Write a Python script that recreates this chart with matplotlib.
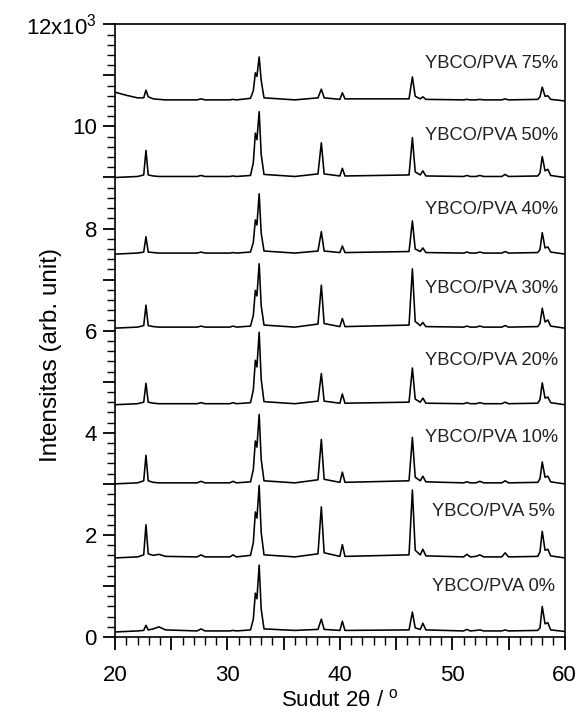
import matplotlib
matplotlib.use("Agg")
import matplotlib.pyplot as plt
from matplotlib.ticker import MultipleLocator, FuncFormatter

plt.rcParams['font.family'] = ['Liberation Sans', 'DejaVu Sans']
plt.rcParams['mathtext.default'] = 'regular'

# Shared 2-theta vertices (degrees) at which intensities were read
two_theta = [20.0, 21.0, 22.0, 22.55, 22.75, 22.95, 23.4, 23.9, 24.5, 27.3,
             27.65, 28.0, 30.2, 30.5, 30.8, 32.05, 32.3, 32.48, 32.62, 32.82,
             33.0, 33.25, 36.0, 38.05, 38.35, 38.6, 40.0, 40.22, 40.45, 46.15,
             46.45, 46.7, 47.15, 47.38, 47.65, 51.0, 51.3, 51.6, 52.1, 52.45,
             52.8, 54.4, 54.7, 55.0, 57.6, 57.8, 58.0, 58.25, 58.5, 58.75, 60.0]

labels = ["YBCO/PVA 0%", "YBCO/PVA 5%", "YBCO/PVA 10%", "YBCO/PVA 20%",
          "YBCO/PVA 30%", "YBCO/PVA 40%", "YBCO/PVA 50%", "YBCO/PVA 75%"]

# Vertical offsets of each stacked pattern (counts)
offsets = [100, 1550, 3000, 4550, 6050, 7500, 9000, 10500]

# Intensities above each pattern's baseline (counts)
pva_0 = [0, 10, 20, 30, 130, 40, 60, 100, 40, 20,
         60, 20, 20, 30, 20, 40, 250, 760, 650, 1310,
         450, 60, 30, 50, 250, 50, 30, 210, 30, 40,
         390, 80, 50, 170, 40, 20, 50, 20, 30, 40,
         20, 20, 40, 20, 30, 80, 500, 160, 180, 40, 10]
pva_5 = [0, 10, 20, 60, 650, 80, 50, 70, 30, 20,
         60, 20, 20, 60, 20, 50, 300, 900, 780, 1420,
         500, 60, 20, 80, 1000, 100, 30, 260, 30, 60,
         1330, 150, 60, 170, 40, 20, 70, 20, 30, 60,
         20, 20, 100, 20, 30, 120, 520, 150, 170, 40, 0]
pva_10 = [0, 10, 20, 60, 560, 60, 30, 20, 20, 20,
          50, 20, 20, 50, 20, 40, 280, 840, 720, 1360,
          480, 60, 20, 80, 870, 90, 30, 230, 30, 60,
          910, 130, 60, 150, 40, 20, 40, 20, 20, 50,
          20, 20, 60, 20, 30, 100, 430, 130, 150, 40, 0]
pva_20 = [0, 10, 20, 50, 420, 50, 30, 20, 20, 20,
          40, 20, 20, 40, 20, 40, 290, 870, 740, 1420,
          500, 60, 20, 70, 610, 70, 30, 210, 30, 50,
          720, 110, 50, 130, 30, 20, 40, 20, 20, 40,
          20, 20, 50, 20, 30, 100, 430, 130, 150, 40, 0]
pva_30 = [0, 10, 20, 50, 450, 50, 30, 20, 20, 20,
          40, 20, 20, 40, 20, 40, 250, 740, 630, 1260,
          440, 60, 20, 80, 840, 90, 30, 190, 30, 60,
          1160, 130, 50, 110, 30, 20, 40, 20, 20, 40,
          20, 20, 50, 20, 30, 90, 390, 120, 160, 40, 0]
pva_40 = [0, 10, 20, 40, 340, 40, 30, 20, 20, 20,
          40, 20, 20, 30, 20, 40, 230, 670, 570, 1180,
          410, 60, 20, 60, 440, 60, 30, 160, 30, 50,
          650, 100, 50, 120, 30, 20, 40, 20, 20, 40,
          20, 20, 50, 20, 30, 90, 420, 120, 140, 40, 0]
pva_50 = [0, 10, 20, 50, 530, 50, 30, 20, 20, 20,
          40, 20, 20, 30, 20, 40, 290, 870, 740, 1290,
          450, 60, 20, 70, 680, 70, 30, 180, 30, 50,
          780, 110, 50, 130, 30, 20, 40, 20, 20, 40,
          20, 20, 60, 20, 30, 90, 410, 130, 160, 40, 0]
pva_75 = [170, 110, 60, 60, 210, 80, 40, 30, 20, 20,
          40, 20, 20, 30, 20, 50, 200, 550, 480, 860,
          400, 60, 20, 60, 230, 60, 30, 160, 40, 40,
          470, 90, 40, 80, 30, 20, 30, 20, 20, 30,
          20, 20, 40, 20, 30, 80, 270, 90, 100, 30, 0]

series = [pva_0, pva_5, pva_10, pva_20, pva_30, pva_40, pva_50, pva_75]

# Label anchor heights (counts)
label_y = [990, 2450, 3900, 5420, 6820, 8370, 9830, 11240]
label_x = [59.1, 59.1, 59.4, 59.4, 59.4, 59.4, 59.4, 59.4]

fig = plt.figure(figsize=(5.84, 7.15), dpi=100)
ax = fig.add_axes([0.197, 0.109, 0.770, 0.857])

for vals, off in zip(series, offsets):
    ax.plot(two_theta, [v + off for v in vals], color='black', lw=1.15)

for lab, lx, ly in zip(labels, label_x, label_y):
    ax.text(lx, ly, lab, ha='right', va='center', fontsize=13.2, color='#222222')

ax.set_xlim(20, 60)
ax.set_ylim(0, 12000)

ax.xaxis.set_major_locator(MultipleLocator(5))
ax.xaxis.set_minor_locator(MultipleLocator(1))
ax.yaxis.set_major_locator(MultipleLocator(1000))
ax.yaxis.set_minor_locator(MultipleLocator(200))

def xfmt(v, pos):
    return f"{int(round(v))}" if int(round(v)) % 10 == 0 else ""

def yfmt(v, pos):
    k = int(round(v / 1000))
    if k % 2:
        return ""
    if k == 12:
        return r"12x10$^{3}$"
    return f"{k}"

ax.xaxis.set_major_formatter(FuncFormatter(xfmt))
ax.yaxis.set_major_formatter(FuncFormatter(yfmt))

ax.tick_params(axis='both', which='major', direction='out', length=9, width=1.3,
               labelsize=16, top=False, right=False)
ax.tick_params(axis='both', which='minor', direction='out', length=5.5, width=1.0,
               top=False, right=False)
ax.tick_params(axis='x', which='major', pad=11)
ax.tick_params(axis='y', which='major', pad=4)

for s in ax.spines.values():
    s.set_linewidth(1.2)

ax.set_xlabel(r"Sudut 2θ / $^{o}$", fontsize=16)
ax.xaxis.set_label_coords(0.5, -0.086)
ax.set_ylabel("Intensitas (arb. unit)", fontsize=17.5)
ax.yaxis.set_label_coords(-0.118, 0.46)

fig.savefig("out.png", dpi=100)
